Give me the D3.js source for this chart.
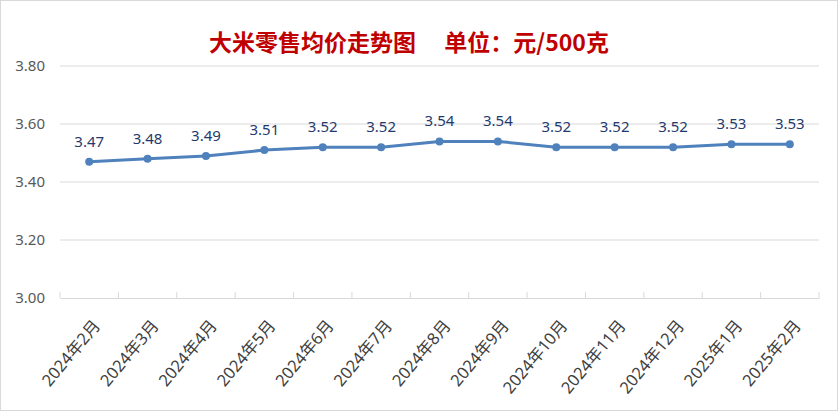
<!DOCTYPE html>
<html><head><meta charset="utf-8">
<script src="https://cdn.jsdelivr.net/npm/d3@7"></script>
<style>body{margin:0;background:#fff}svg{display:block}</style>
</head><body>
<script>
const categories = ["2024年2月","2024年3月","2024年4月","2024年5月","2024年6月","2024年7月","2024年8月","2024年9月","2024年10月","2024年11月","2024年12月","2025年1月","2025年2月"];
const values = [3.47,3.48,3.49,3.51,3.52,3.52,3.54,3.54,3.52,3.52,3.52,3.53,3.53];
const yTicks = [3.00,3.20,3.40,3.60,3.80];
const title = "大米零售均价走势图　 单位：元/500克";

const W = 838, H = 411;
const svg = d3.select("body").append("svg").attr("width", W).attr("height", H);
svg.append("rect").attr("x",0.5).attr("y",0.5).attr("width",W-1).attr("height",H-1)
  .attr("fill","#fff").attr("stroke","#d9d9d9");

const font = "'Noto Sans','Noto Sans CJK SC',sans-serif";
const x = d3.scaleBand().domain(categories).range([60, 819]);
const y = d3.scaleLinear().domain([3.0, 3.8]).range([298, 66]);

svg.append("text").attr("x", 409).attr("y", 51).attr("text-anchor","middle")
  .attr("font-family","'Noto Sans CJK SC',sans-serif").attr("font-weight","bold")
  .attr("font-size",23).attr("fill","#c00000").text(title);

// gridlines
svg.append("g").selectAll("line").data(yTicks.slice(1)).join("line")
  .attr("x1",60).attr("x2",819).attr("y1",d=>y(d)).attr("y2",d=>y(d))
  .attr("stroke","#d9d9d9").attr("stroke-width",1);

// y labels
svg.append("g").selectAll("text").data(yTicks).join("text")
  .attr("x",45).attr("y",d=>y(d)+5).attr("text-anchor","end")
  .attr("font-family",font).attr("font-size",15).attr("fill","#595959")
  .text(d=>d.toFixed(2));

// x axis
const xAxis = d3.axisBottom(x).tickSizeOuter(0).tickSizeInner(0).tickFormat("");
const ax = svg.append("g").attr("transform","translate(0,298)").call(xAxis);
ax.select(".domain").attr("stroke","#d9d9d9");
// tick marks at band boundaries
svg.append("g").selectAll("line").data(categories.concat([null])).join("line")
  .attr("x1",(d,i)=> i<categories.length ? x(d) : x(categories[categories.length-1])+x.bandwidth())
  .attr("x2",(d,i)=> i<categories.length ? x(d) : x(categories[categories.length-1])+x.bandwidth())
  .attr("y1",292).attr("y2",298).attr("stroke","#d9d9d9");

svg.append("g").selectAll("text").data(categories).join("text")
  .attr("transform",d=>`translate(${x(d)+x.bandwidth()/2+12},326) rotate(-50)`)
  .attr("text-anchor","end")
  .attr("font-family",font).attr("font-size",16.5).attr("fill","#404040")
  .text(d=>d);

const cx = d => x(d)+x.bandwidth()/2;
const line = d3.line().x((d,i)=>cx(categories[i])).y(d=>y(d));
svg.append("path").datum(values).attr("d",line).attr("fill","none")
  .attr("stroke","#4f81bd").attr("stroke-width",3).attr("stroke-linejoin","round");
svg.append("g").selectAll("circle").data(values).join("circle")
  .attr("cx",(d,i)=>cx(categories[i])).attr("cy",d=>y(d)).attr("r",4).attr("fill","#4f81bd");
svg.append("g").selectAll("text").data(values).join("text")
  .attr("x",(d,i)=>cx(categories[i])).attr("y",d=>y(d)-15).attr("text-anchor","middle")
  .attr("font-family",font).attr("font-size",15).attr("fill","#1f3a6e")
  .text(d=>d.toFixed(2));
</script>
</body></html>
